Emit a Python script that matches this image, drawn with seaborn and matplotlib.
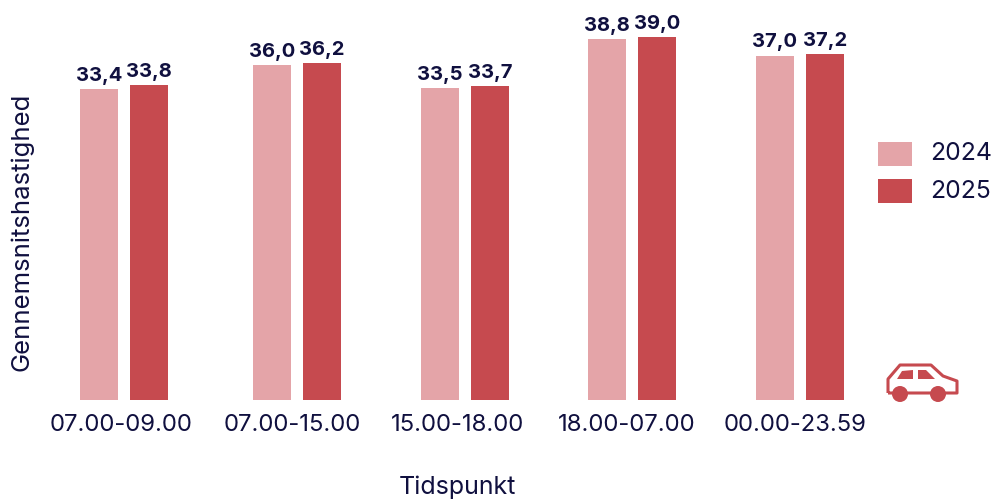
import matplotlib
matplotlib.use("Agg")
import matplotlib.pyplot as plt
import pandas as pd
import seaborn as sns
from matplotlib.patches import Circle, PathPatch, Polygon, Rectangle
from matplotlib.path import Path

periods = ["07.00-09.00", "07.00-15.00", "15.00-18.00", "18.00-07.00", "00.00-23.59"]
speed_2024 = [33.4, 36.0, 33.5, 38.8, 37.0]
speed_2025 = [33.8, 36.2, 33.7, 39.0, 37.2]
bar_labels_2024 = ["33,4", "36,0", "33,5", "38,8", "37,0"]
bar_labels_2025 = ["33,8", "36,2", "33,7", "39,0", "37,2"]
years = ["2024", "2025"]
year_colors = ["#E4A4A8", "#C64A4F"]
ink = "#10103F"

W, H = 994, 499
sns.set_theme(style="white")
plt.rcParams["font.family"] = ["Inter", "DejaVu Sans"]

frame = pd.DataFrame({
    "Tidspunkt": periods * 2,
    "Hastighed": speed_2024 + speed_2025,
    "År": [years[0]] * 5 + [years[1]] * 5,
})

fig = plt.figure(figsize=(W / 100, H / 100), dpi=100)
ax = fig.add_axes([0, 0, 1, 1])
ax.set_xlim(0, W)
ax.set_ylim(H, 0)
ax.axis("off")

# Plot axes span the bar area; y is scaled so 39.0 reaches the top of the tallest bar.
plot = fig.add_axes([39.5 / W, 1 - 400 / H, 845 / W, 363 / H])
plot.patch.set_visible(False)
sns.barplot(data=frame, x="Tidspunkt", y="Hastighed", hue="År", palette=year_colors,
            width=0.592, gap=0.24, saturation=1, linewidth=0, legend=False, ax=plot)
plot.set_ylim(0, 39.0)
plot.set_xlim(-0.5, 4.5)
sns.despine(ax=plot, left=True, bottom=True)
plot.set_yticks([])
plot.set_xlabel("")
plot.set_ylabel("")

# Groups are not spaced quite evenly, so nudge each one (in pixels) before labelling.
group_nudge = [0, 4, 3, 1, 0]
tick_nudge = [-3, -1, -4, -4, -5]
px = 1 / 169
for container in plot.containers:
    for bar, nudge in zip(container, group_nudge):
        bar.set_x(bar.get_x() + nudge * px)
plot.set_xticks([i + n * px for i, n in enumerate(tick_nudge)], periods)
plot.tick_params(axis="x", length=0, pad=10, labelsize=17.2, labelcolor=ink)

for container, labels in zip(plot.containers, [bar_labels_2024, bar_labels_2025]):
    plot.bar_label(container, labels=labels, padding=3, fontsize=14.5,
                   fontweight="bold", color=ink, clip_on=False)

ax.text(457, 487, "Tidspunkt", fontsize=18, color=ink, ha="center", va="center")
ax.text(22, 232, "Gennemsnitshastighed", fontsize=18.5, color=ink,
        rotation=90, ha="center", va="center")

# Legend swatches with their year labels
for (y, year, color) in zip([154, 191], years, year_colors):
    ax.add_patch(Rectangle((878, y - 12), 34, 24, color=color, lw=0))
    ax.text(930, y, year, fontsize=17.8, color=ink, va="center", ha="left")

# Small car pictogram
body = Path([(888, 393), (888, 379), (900, 365), (931, 365), (943, 376), (957, 381),
             (957, 393), (888, 393)], closed=False)
ax.add_patch(PathPatch(body, fc="none", ec=year_colors[1], lw=2.2, joinstyle="round"))
ax.add_patch(Polygon([(897, 379), (902, 371), (913, 370), (913, 379)], color=year_colors[1], lw=0))
ax.add_patch(Polygon([(918, 370), (926, 370), (935, 379), (918, 379)], color=year_colors[1], lw=0))
ax.add_patch(Circle((900, 394), 8, color=year_colors[1], lw=0))
ax.add_patch(Circle((938, 394), 8, color=year_colors[1], lw=0))

fig.savefig("out.png", dpi=100)
